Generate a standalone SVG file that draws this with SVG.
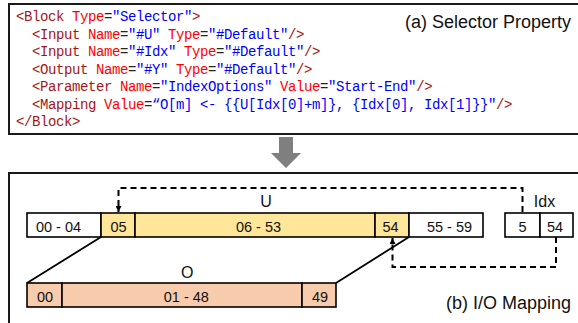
<svg xmlns="http://www.w3.org/2000/svg" width="578" height="323" viewBox="0 0 578 323">
<style>
.frame{fill:#fff;stroke:#1a1a1a;stroke-width:2}
.code{font-family:"Liberation Mono","DejaVu Sans Mono",monospace;font-size:14px;letter-spacing:-0.4px}
.tg{fill:#A31515}.at{fill:#FF0000}.eq{fill:#222}.vl{fill:#0000FF}
.cap{font-family:"Liberation Sans",Arial,sans-serif;font-size:18px;fill:#111;text-anchor:end}
.cell{stroke:#000;stroke-width:1.6}
.w{fill:#fff}.y{fill:#FFE699}.o{fill:#F8CBAD}
.t{font-family:"Liberation Sans",Arial,sans-serif;font-size:14.5px;fill:#111;text-anchor:middle}
.lbl{font-family:"Liberation Sans",Arial,sans-serif;font-size:16px;fill:#111;text-anchor:middle}
.dash{fill:none;stroke:#000;stroke-width:2;stroke-dasharray:6 4}
.solid{fill:none;stroke:#000;stroke-width:1.8}
</style>
<defs>
<marker id="ah" viewBox="0 0 6 6" refX="6" refY="3" markerWidth="6" markerHeight="6" markerUnits="userSpaceOnUse" orient="auto">
<path d="M0,0 L6,3 L0,6 Z" fill="#000"/>
</marker>
</defs>
<g id="selector-property">
<rect class="frame" x="9" y="4" width="590" height="130"/>
<text class="code" x="16" y="21"><tspan class="tg">&lt;Block </tspan><tspan class="at">Type</tspan><tspan class="eq">=</tspan><tspan class="vl">"Selector"</tspan><tspan class="tg">&gt;</tspan></text>
<text class="code" x="32" y="38.5"><tspan class="tg">&lt;Input </tspan><tspan class="at">Name</tspan><tspan class="eq">=</tspan><tspan class="vl">"#U" </tspan><tspan class="at">Type</tspan><tspan class="eq">=</tspan><tspan class="vl">"#Default"</tspan><tspan class="tg">/&gt;</tspan></text>
<text class="code" x="32" y="56"><tspan class="tg">&lt;Input </tspan><tspan class="at">Name</tspan><tspan class="eq">=</tspan><tspan class="vl">"#Idx" </tspan><tspan class="at">Type</tspan><tspan class="eq">=</tspan><tspan class="vl">"#Default"</tspan><tspan class="tg">/&gt;</tspan></text>
<text class="code" x="32" y="73.5"><tspan class="tg">&lt;Output </tspan><tspan class="at">Name</tspan><tspan class="eq">=</tspan><tspan class="vl">"#Y" </tspan><tspan class="at">Type</tspan><tspan class="eq">=</tspan><tspan class="vl">"#Default"</tspan><tspan class="tg">/&gt;</tspan></text>
<text class="code" x="32" y="91"><tspan class="tg">&lt;Parameter </tspan><tspan class="at">Name</tspan><tspan class="eq">=</tspan><tspan class="vl">"IndexOptions" </tspan><tspan class="at">Value</tspan><tspan class="eq">=</tspan><tspan class="vl">"Start-End"</tspan><tspan class="tg">/&gt;</tspan></text>
<text class="code" x="32" y="108.5"><tspan class="tg">&lt;Mapping </tspan><tspan class="at">Value</tspan><tspan class="eq">=</tspan><tspan class="vl">“O[m] &lt;- {{U[Idx[0]+m]}, {Idx[0], Idx[1]}}"</tspan><tspan class="tg">/&gt;</tspan></text>
<text class="code" x="16" y="126"><tspan class="tg">&lt;/Block&gt;</tspan></text>
<text class="cap" x="571" y="28">(a) Selector Property</text>
</g>
<g id="down-arrow">
<path d="M279,137 H293 V153 H301 L286,168 L271,153 H279 Z" fill="#7F7F7F"/>
</g>
<g id="io-mapping">
<rect class="frame" x="9" y="173" width="590" height="160"/>
<text class="cap" x="571" y="309">(b) I/O Mapping</text>
</g>
<g id="U">
<text class="lbl" x="266" y="206.5">U</text>
<g id="U-00-04"><rect class="cell w" x="27" y="213" width="74" height="24"/><text class="t" x="58.5" y="232">00 - 04</text></g>
<g id="U-05"><rect class="cell y" x="101" y="213" width="34" height="24"/><text class="t" x="118.5" y="232">05</text></g>
<g id="U-06-53"><rect class="cell y" x="135" y="213" width="240" height="24"/><text class="t" x="258.5" y="232">06 - 53</text></g>
<g id="U-54"><rect class="cell y" x="375" y="213" width="34" height="24"/><text class="t" x="390.5" y="232">54</text></g>
<g id="U-55-59"><rect class="cell w" x="409" y="213" width="74" height="24"/><text class="t" x="449.5" y="232">55 - 59</text></g>
</g>
<g id="Idx">
<text class="lbl" x="544.5" y="206.5">Idx</text>
<g id="Idx-0"><rect class="cell w" x="505" y="213" width="35" height="24"/><text class="t" x="522.5" y="232">5</text></g>
<g id="Idx-1"><rect class="cell w" x="540" y="213" width="33" height="24"/><text class="t" x="555" y="232">54</text></g>
</g>
<g id="O">
<text class="lbl" x="187.3" y="278">O</text>
<g id="O-00"><rect class="cell o" x="27" y="283" width="35" height="24"/><text class="t" x="45" y="302">00</text></g>
<g id="O-01-48"><rect class="cell o" x="62" y="283" width="240" height="24"/><text class="t" x="186.3" y="302">01 - 48</text></g>
<g id="O-49"><rect class="cell o" x="302" y="283" width="34" height="24"/><text class="t" x="320" y="302">49</text></g>
</g>
<g id="connectors">
<path class="solid" d="M101,237 L27,283"/>
<path class="solid" d="M336,283 L409,237"/>
<path class="dash" d="M522.5,212 V188 H118.5 V212" marker-end="url(#ah)"/>
<path class="dash" d="M556,237 V267 H392.5 V238" marker-end="url(#ah)"/>
</g>
</svg>
